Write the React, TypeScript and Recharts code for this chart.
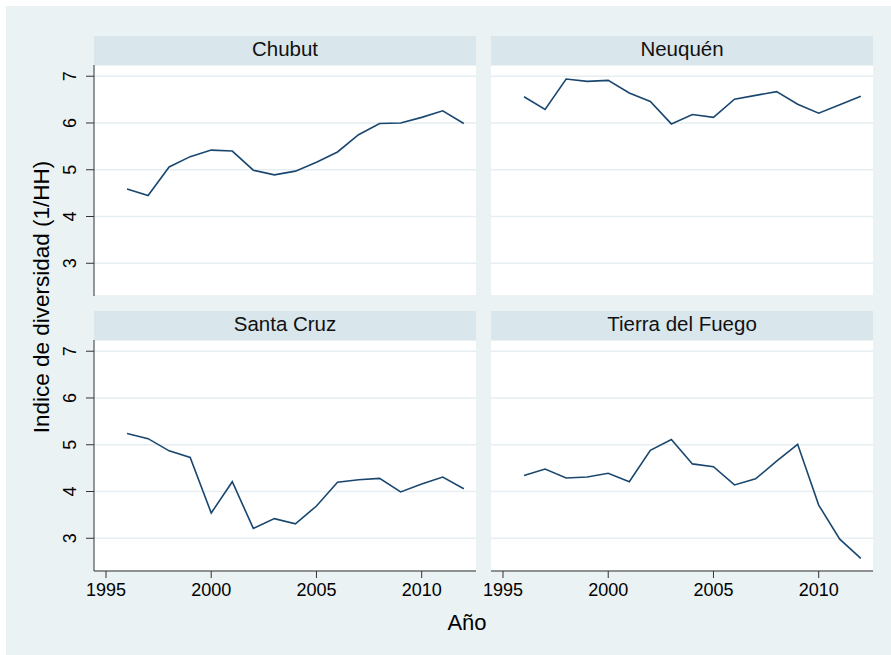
import * as React from 'react';
import { LineChart, Line, XAxis, YAxis, CartesianGrid } from 'recharts';

const years = [1996, 1997, 1998, 1999, 2000, 2001, 2002, 2003, 2004, 2005, 2006, 2007, 2008, 2009, 2010, 2011, 2012];

const chubut = [4.59, 4.45, 5.06, 5.28, 5.42, 5.40, 4.99, 4.89, 4.97, 5.16, 5.38, 5.75, 5.99, 6.00, 6.12, 6.26, 5.99];
const neuquen = [6.56, 6.29, 6.94, 6.89, 6.91, 6.64, 6.46, 5.98, 6.18, 6.12, 6.51, 6.59, 6.67, 6.40, 6.21, 6.39, 6.57];
const santaCruz = [5.24, 5.13, 4.87, 4.73, 3.54, 4.21, 3.21, 3.42, 3.31, 3.69, 4.20, 4.25, 4.28, 3.99, 4.16, 4.31, 4.06];
const tierraDelFuego = [4.34, 4.48, 4.29, 4.31, 4.39, 4.21, 4.88, 5.11, 4.59, 4.53, 4.14, 4.27, 4.65, 5.01, 3.71, 2.98, 2.57];

const xTicks = [1995, 2000, 2005, 2010];
const yTicks = [3, 4, 5, 6, 7];

const FONT = '"Liberation Sans", Arial, sans-serif';
const BG = '#eaf2f3';
const STRIP = '#d9e6eb';
const LINE = '#1a476f';

const PLOT_W = 382;
const PLOT_H = 231;
const STRIP_H = 29;
const Y_AXIS_W = 88;
const X_AXIS_H = 50;
const PAD = 20; // room for the first x tick label on panels without a y axis

const YTick = (props: any) => {
  const { x, y, payload } = props;
  return (
    <text
      x={x - 14}
      y={y}
      transform={`rotate(-90, ${x - 14}, ${y})`}
      textAnchor="middle"
      dominantBaseline="central"
      fontFamily={FONT}
      fontSize={18}
      fill="#000"
    >
      {payload.value}
    </text>
  );
};

type PanelProps = {
  title: string;
  values: number[];
  left: number;
  top: number;
  showY: boolean;
  showX: boolean;
};

const Panel: React.FC<PanelProps> = ({ title, values, left, top, showY, showX }) => {
  const data = years.map((year, i) => ({ year, value: values[i] }));
  const axisW = showY ? Y_AXIS_W : 0;
  const pad = showY ? 0 : PAD;
  const chartH = PLOT_H + (showX ? X_AXIS_H : 0);

  return (
    <div style={{ position: 'absolute', left, top, width: axisW + PLOT_W, height: STRIP_H + chartH }}>
      <svg width={axisW + PLOT_W} height={STRIP_H} style={{ position: 'absolute', left: 0, top: 0 }}>
        <rect x={axisW} y={0} width={PLOT_W} height={STRIP_H} fill={STRIP} />
        <text x={axisW + PLOT_W / 2} y={20} textAnchor="middle" fontFamily={FONT} fontSize={20.5} fill="#111">
          {title}
        </text>
      </svg>
      <div style={{ position: 'absolute', left: -pad, top: STRIP_H }}>
        <LineChart
          width={axisW + PLOT_W + pad}
          height={chartH}
          data={data}
          margin={{ top: 0, right: 0, bottom: 0, left: pad }}
        >
          <CartesianGrid vertical={false} fill="#fff" stroke="#e6eef1" strokeWidth={1.5} />
          <XAxis
            type="number"
            dataKey="year"
            domain={[1994.43, 2012.58]}
            ticks={xTicks}
            interval={0}
            allowDataOverflow
            hide={!showX}
            height={X_AXIS_H}
            stroke="#333"
            tickSize={7}
            tickMargin={5}
            tick={{ fill: '#000', fontSize: 18, fontFamily: FONT }}
          />
          <YAxis
            type="number"
            domain={[2.3, 7.24]}
            ticks={yTicks}
            interval={0}
            allowDataOverflow
            hide={!showY}
            width={Y_AXIS_W}
            stroke="#333"
            tickSize={8}
            tick={<YTick />}
          />
          <Line type="linear" dataKey="value" stroke={LINE} strokeWidth={1.6} dot={false} activeDot={false} isAnimationActive={false} />
        </LineChart>
      </div>
    </div>
  );
};

const App: React.FC = () => {
  return (
    <div style={{ position: 'absolute', left: 0, top: 0, width: 891, height: 655, background: '#fff', fontFamily: FONT }}>
      <svg width={891} height={655} style={{ position: 'absolute', left: 0, top: 0 }}>
        <rect x={6} y={6} width={885} height={649} fill={BG} />
        <text
          x={41}
          y={297}
          transform="rotate(-90, 41, 297)"
          textAnchor="middle"
          dominantBaseline="central"
          fontFamily={FONT}
          fontSize={22.5}
          fill="#000"
        >
          Indice de diversidad (1/HH)
        </text>
        <text x={467} y={630} textAnchor="middle" fontFamily={FONT} fontSize={22} fill="#000">
          Año
        </text>
      </svg>
      <Panel title="Chubut" values={chubut} left={6} top={36} showY showX={false} />
      <Panel title="Neuquén" values={neuquen} left={491} top={36} showY={false} showX={false} />
      <Panel title="Santa Cruz" values={santaCruz} left={6} top={311} showY showX />
      <Panel title="Tierra del Fuego" values={tierraDelFuego} left={491} top={311} showY={false} showX />
    </div>
  );
};

export default App;
